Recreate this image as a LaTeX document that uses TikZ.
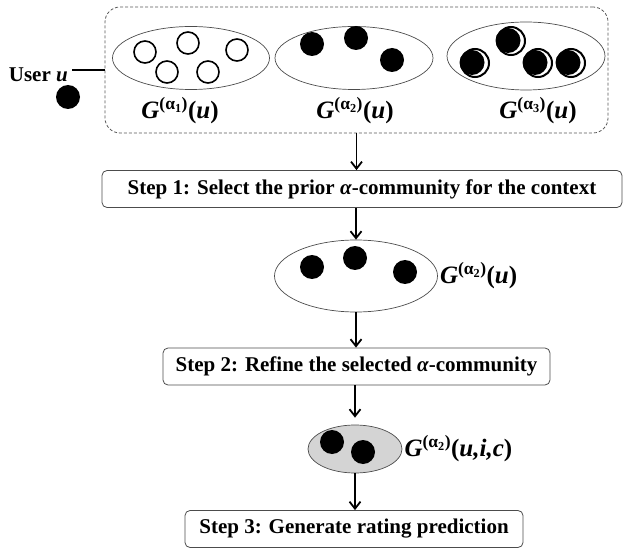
\documentclass[tikz,border=0pt]{standalone}
\usepackage{fontspec}
\setmainfont{Liberation Serif}
\usetikzlibrary{shapes.geometric,arrows.meta,calc}

\tikzset{
  stepbox/.style={draw=black!70, rounded corners=5pt, line width=0.8pt,
    minimum height=37pt, inner sep=0pt, font=\fontsize{21}{24}\selectfont\bfseries},
  comm/.style={draw=black!70, ellipse, line width=0.7pt, inner sep=0pt},
  flow/.style={-{Straight Barb[length=7pt,width=11pt,line width=1.8pt]}, line width=1.8pt},
  glabel/.style={font=\fontsize{25}{28}\selectfont, inner sep=0pt},
}
% G^(alpha_k)(...) label
\newcommand{\gcomm}[2]{\textbf{\textit{G}}\textsuperscript{\textbf{(α\textsubscript{#1})}}\textbf{(\textit{#2})}}

\begin{document}
\begin{tikzpicture}[x=1pt,y=-1pt]
  \useasboundingbox (0,0) rectangle (632,548);

  % the user and its three alpha-communities
  \node[draw=black!65, line width=0.8pt, dash pattern=on 3pt off 2pt, rounded corners=15pt,
    minimum width=503pt, minimum height=126pt, inner sep=0pt] (frame) at (356.5,70) {};
  \node[anchor=east, inner sep=0pt, font=\fontsize{21}{23}\selectfont\bfseries]
    (user) at (68,75) {User \textit{u}};
  \coordinate (tie) at ($(user.east |- frame.west)+(4,0)$);
  \draw[line width=1.5pt] (tie) -- (frame.west);
  \fill (68,97) circle (12);

  \node[comm, minimum width=157pt, minimum height=63pt] (g1) at (191,58) {};
  \node[comm, minimum width=158pt, minimum height=63pt] (g2) at (354,58) {};
  \node[comm, minimum width=158pt, minimum height=68pt] (g3) at (526,56) {};
  \foreach \p in {(145,52),(188,43),(167,72),(208,72),(237,50)}
    \draw[line width=1.6pt] \p circle (11);
  \foreach \p in {(312,44),(356,38),(392,60)}
    \fill \p circle (12);
  \foreach \x/\y in {475/63, 511/41, 538/63, 571/63} {
    \draw[line width=2pt] (\x,\y) circle (14);
    \fill (\x-3,\y-0.5) circle (12.5);
  }
  \node[glabel] (l1) at (180,111) {\gcomm{1}{u}};
  \node[glabel] (l2) at (355,111) {\gcomm{2}{u}};
  \node[glabel] (l3) at (538,111) {\gcomm{3}{u}};

  % step 1
  \node[stepbox, minimum width=520pt] (s1) at (362,189)
    {Step 1: Select the prior \textit{α}-community for the context};
  \draw[flow] (frame.south) -- (frame.south |- s1.north);

  \node[comm, minimum width=163pt, minimum height=72pt] (sel) at (356,276) {};
  \foreach \p in {(312,267),(355,258),(405,272)}
    \fill \p circle (12);
  \node[glabel, anchor=west] (lsel) at ([xshift=2pt]sel.east) {\gcomm{2}{u}};
  \draw[flow] (s1.south -| sel.north) -- (sel.north);

  % step 2
  \node[stepbox, minimum width=387pt] (s2) at (356.5,366.5)
    {Step 2: Refine the selected \textit{α}-community};
  \draw[flow] (sel.south) -- (sel.south |- s2.north);

  \node[comm, fill=black!17, minimum width=94pt, minimum height=48pt] (ref) at (355,449) {};
  \foreach \p in {(332,442),(363,452)}
    \fill \p circle (12);
  \node[glabel, anchor=west] (lref) at ([xshift=2pt]ref.east) {\gcomm{2}{u,i,c}};
  \draw[flow, shorten >=7pt] (s2.south -| ref.north) -- (ref.north);

  % step 3
  \node[stepbox, minimum width=338pt] (s3) at (354,529)
    {Step 3: Generate rating prediction};
  \draw[flow] (ref.south) -- (ref.south |- s3.north);
\end{tikzpicture}
\end{document}
